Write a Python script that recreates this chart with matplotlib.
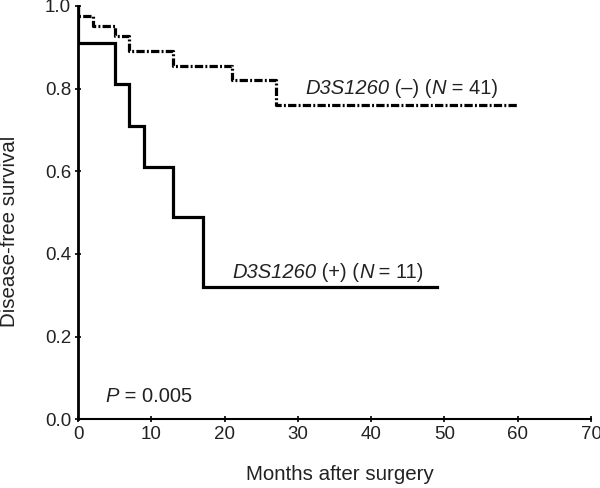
import matplotlib
matplotlib.use("Agg")
import matplotlib.pyplot as plt

plt.rcParams["font.family"] = ["Liberation Sans", "DejaVu Sans"]

# D3S1260 (+), N = 11 : step times (months) and survival after each step
pos_time = [0, 5, 7, 9, 13, 17, 49]
pos_surv = [0.91, 0.81, 0.71, 0.61, 0.49, 0.32, 0.32]

# D3S1260 (-), N = 41
neg_time = [0, 2, 5, 7, 13, 21, 27, 60]
neg_surv = [0.976, 0.951, 0.927, 0.89, 0.855, 0.82, 0.76, 0.76]

x_ticks = [0, 10, 20, 30, 40, 50, 60, 70]
y_ticks = [0.0, 0.2, 0.4, 0.6, 0.8, 1.0]

TXT = "#222222"


def mixed_label(ax, x, y, parts, size):
    # parts: list of (text, italic) pieces laid end to end
    t = ax.text(x, y, parts[0][0], fontsize=size, color=TXT, va="bottom",
                fontstyle="italic" if parts[0][1] else "normal")
    for s, it in parts[1:]:
        t = ax.annotate(s, xy=(1, 0), xycoords=t, va="bottom", ha="left",
                        fontsize=size, color=TXT,
                        fontstyle="italic" if it else "normal")
    return t


fig = plt.figure(figsize=(6.0, 4.88), dpi=100)
ax = fig.add_axes([0.13, 0.141, 0.855, 0.847])

ax.step([0] + pos_time, [1.0] + pos_surv, where="post", color="black",
        lw=2.3, solid_joinstyle="miter")
ax.step([0] + neg_time, [1.0] + neg_surv, where="post", color="black",
        lw=2.3, linestyle=(0, (2.6, 0.7, 0.6, 0.7)))

mixed_label(ax, 21.0, 0.333, [("D3S1260", True), (" (+) (", False),
                              ("N", True), (" = 11)", False)], 14.5)
mixed_label(ax, 31, 0.776, [("D3S1260", True), (" (–) (", False),
                            ("N", True), (" = 41)", False)], 14.5)
mixed_label(ax, 3.8, 0.032, [("P", True), (" = 0.005", False)], 14.5)

ax.set_xlim(0, 70)
ax.set_ylim(0, 1.0)
ax.set_xticks(x_ticks)
ax.set_yticks(y_ticks)
ax.set_yticklabels([f"{v:.1f}" for v in y_ticks])
ax.tick_params(labelsize=13.5, length=4, width=1.2, direction="inout",
               colors="black", labelcolor=TXT, pad=3)
for s in ["top", "right"]:
    ax.spines[s].set_visible(False)
ax.spines["left"].set_linewidth(2.0)
ax.spines["bottom"].set_linewidth(1.5)

ax.set_xlabel("Months after surgery", fontsize=14.8, color=TXT)
ax.set_ylabel("Disease-free survival", fontsize=14.8, color=TXT)
ax.xaxis.set_label_coords(0.51, -0.112)
ax.yaxis.set_label_coords(-0.115, 0.455)

fig.savefig("out.png", dpi=100, facecolor="white")
